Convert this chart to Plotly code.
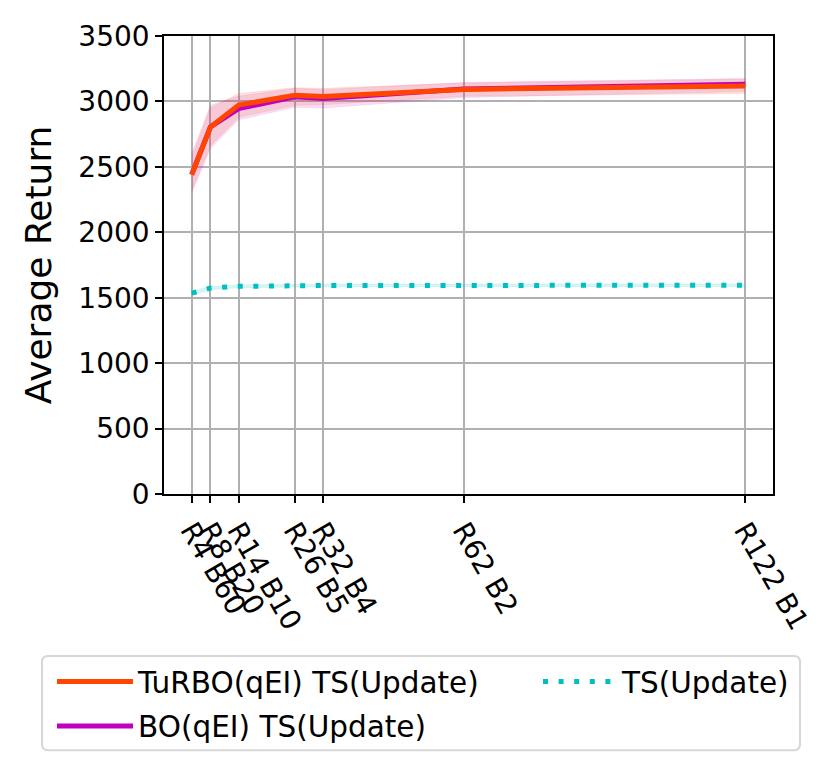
import plotly.graph_objects as go

# ---- data ----
x_vals = [4, 8, 14, 26, 32, 62, 122]
tick_labels = ["R4 B60", "R8 B20", "R14 B10", "R26 B5", "R32 B4", "R62 B2", "R122 B1"]

turbo_mean = [2440, 2805, 2972, 3048, 3038, 3092, 3118]
turbo_lo   = [2320, 2660, 2880, 2970, 2975, 3040, 3060]
turbo_hi   = [2570, 2950, 3060, 3105, 3100, 3140, 3170]

bo_mean = [2440, 2805, 2945, 3035, 3022, 3095, 3132]
bo_lo   = [2300, 2640, 2860, 2955, 2950, 3030, 3075]
bo_hi   = [2600, 2970, 3040, 3100, 3090, 3145, 3175]

ts_mean = [1535, 1574, 1587, 1592, 1593, 1594, 1595]
ts_lo   = [1520, 1562, 1576, 1582, 1583, 1584, 1585]
ts_hi   = [1550, 1586, 1598, 1602, 1603, 1604, 1605]

y_ticks = [0, 500, 1000, 1500, 2000, 2500, 3000, 3500]

FONT = "DejaVu Sans"
fig = go.Figure()

def band(lo, hi, color):
    fig.add_trace(go.Scatter(x=x_vals, y=lo, mode="lines", line=dict(width=0.8, color=color),
                             showlegend=False, hoverinfo="skip"))
    fig.add_trace(go.Scatter(x=x_vals, y=hi, mode="lines", line=dict(width=0.8, color=color),
                             fill="tonexty", fillcolor=color, showlegend=False, hoverinfo="skip"))

band(turbo_lo, turbo_hi, "rgba(255,69,0,0.14)")
band(bo_lo, bo_hi, "rgba(191,0,191,0.12)")
band(ts_lo, ts_hi, "rgba(0,191,191,0.15)")

fig.add_trace(go.Scatter(x=x_vals, y=bo_mean, mode="lines", name="BO(qEI) TS(Update)",
                         line=dict(color="#bf00bf", width=5), legend="legend", legendrank=2,
                         legendgroup="b"))
fig.add_trace(go.Scatter(x=x_vals, y=turbo_mean, mode="lines", name="TuRBO(qEI) TS(Update)",
                         line=dict(color="#ff4500", width=5), legend="legend", legendrank=1,
                         legendgroup="a"))
fig.add_trace(go.Scatter(x=x_vals, y=ts_mean, mode="lines", name="TS(Update)",
                         line=dict(color="#00bfbf", width=5, dash="5px,10.6px"), legend="legend2"))

# page is offset by the 8px body margin
OFF = 8
W, H = 829 - OFF, 774 - OFF
L, T = 164 - OFF, 33 - OFF
R = W - (773 - OFF)
B = H - (494 - OFF)
pw, ph = W - L - R, H - T - B

def px_x(p):
    return (p - OFF - L) / pw

def px_y(p):
    return (H - B - (p - OFF)) / ph

def rounded_box(x0, y0, x1, y1, r):
    pts = [
        f"M{px_x(x0 + r)},{px_y(y0)}",
        f"L{px_x(x1 - r)},{px_y(y0)}",
        f"Q{px_x(x1)},{px_y(y0)} {px_x(x1)},{px_y(y0 + r)}",
        f"L{px_x(x1)},{px_y(y1 - r)}",
        f"Q{px_x(x1)},{px_y(y1)} {px_x(x1 - r)},{px_y(y1)}",
        f"L{px_x(x0 + r)},{px_y(y1)}",
        f"Q{px_x(x0)},{px_y(y1)} {px_x(x0)},{px_y(y1 - r)}",
        f"L{px_x(x0)},{px_y(y0 + r)}",
        f"Q{px_x(x0)},{px_y(y0)} {px_x(x0 + r)},{px_y(y0)}",
        "Z",
    ]
    return " ".join(pts)

axis_common = dict(showline=True, linecolor="black", linewidth=1.6, mirror=True,
                   ticks="outside", ticklen=7, tickwidth=1.6, tickcolor="black",
                   showgrid=True, gridcolor="#b0b0b0", gridwidth=1.6, zeroline=False,
                   tickfont=dict(family=FONT, size=28, color="black"))

fig.update_layout(
    width=W, height=H,
    margin=dict(l=L, r=R, t=T, b=B),
    paper_bgcolor="white", plot_bgcolor="white",
    font=dict(family=FONT, color="black"),
    xaxis=dict(range=[-1.9, 127.9], tickvals=x_vals, ticktext=tick_labels, tickangle=60,
               **axis_common),
    yaxis=dict(range=[0, 3500], tickvals=y_ticks,
               title=dict(text="Average Return", font=dict(family=FONT, size=36), standoff=16),
               **axis_common),
    legend=dict(x=px_x(52), y=px_y(657), xanchor="left", yanchor="top",
                bgcolor="rgba(0,0,0,0)", borderwidth=0, tracegroupgap=3,
                font=dict(family=FONT, size=29.5), itemwidth=76),
    legend2=dict(x=px_x(538), y=px_y(657), xanchor="left", yanchor="top",
                 bgcolor="rgba(0,0,0,0)", borderwidth=0,
                 font=dict(family=FONT, size=29.5), itemwidth=74),
    shapes=[dict(type="path", xref="paper", yref="paper",
                 path=rounded_box(42, 657, 800, 752, 6),
                 line=dict(color="#d6d6d6", width=2), fillcolor="rgba(255,255,255,0.8)",
                 layer="below")],
)

fig.write_html("out.html")
